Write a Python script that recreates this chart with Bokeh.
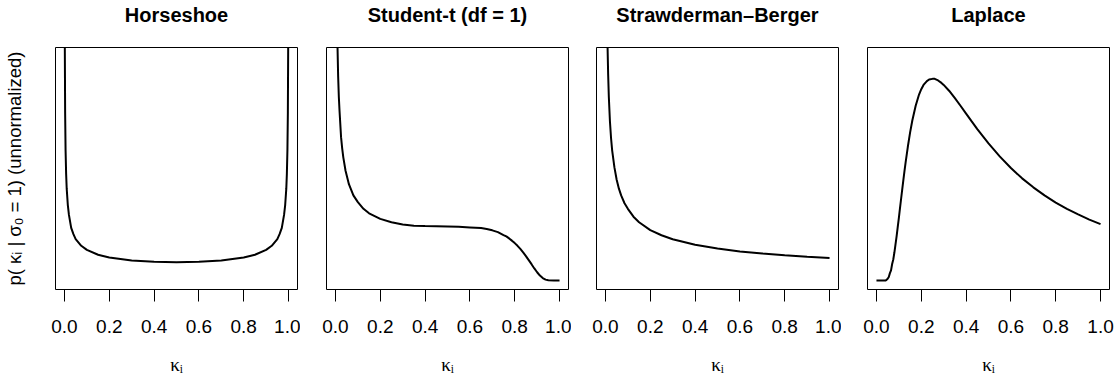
from bokeh.plotting import figure
from bokeh.layouts import row
from bokeh.models import Range1d, FixedTicker, LinearAxis, PrintfTickFormatter
from bokeh.embed import file_html
from bokeh.resources import INLINE

# ---- data (y in relative "unnormalized" units) ----
titles = ["Horseshoe", "Student-t (df = 1)", "Strawderman\u2013Berger", "Laplace"]
x_ticks = [0.0, 0.2, 0.4, 0.6, 0.8, 1.0]
y_label = "p( \u03ba\u1d62 | \u03c3\u2080 = 1) (unnormalized)"
x_label = "\u03ba\u1d62"

hs_kappa = [0.0015, 0.003, 0.005, 0.0075, 0.01, 0.015, 0.02, 0.03, 0.04, 0.05, 0.075,
            0.1, 0.15, 0.2, 0.3, 0.4, 0.5, 0.6, 0.7, 0.8, 0.85, 0.9, 0.925, 0.95,
            0.96, 0.97, 0.98, 0.985, 0.99, 0.9925, 0.995, 0.997, 0.9985]
hs_dens = [1.06, 0.75, 0.58, 0.475, 0.41, 0.337, 0.293, 0.235, 0.207, 0.185, 0.155,
           0.137, 0.115, 0.1025, 0.0895, 0.0837, 0.082, 0.0837, 0.0895, 0.1025, 0.115,
           0.137, 0.155, 0.185, 0.207, 0.235, 0.293, 0.337, 0.41, 0.475, 0.58, 0.75, 1.06]

st_kappa = [0.009, 0.012, 0.015, 0.018, 0.025, 0.03, 0.035, 0.045, 0.06, 0.08, 0.1, 0.125,
            0.15, 0.2, 0.25, 0.3, 0.35, 0.4, 0.45, 0.5, 0.55, 0.6, 0.65, 0.675, 0.7,
            0.725, 0.75, 0.7625, 0.775, 0.7875, 0.8, 0.8125, 0.825, 0.8375, 0.85,
            0.8625, 0.875, 0.8875, 0.9, 0.9125, 0.925, 0.9375, 0.95, 0.975, 1.0]
st_dens = [1.05, 0.91, 0.82, 0.76, 0.64, 0.59, 0.55, 0.49, 0.43, 0.38, 0.35, 0.32,
           0.30, 0.275, 0.26, 0.25, 0.245, 0.243, 0.242, 0.241, 0.24, 0.237, 0.234, 0.23, 0.224,
           0.216, 0.203, 0.197, 0.188, 0.178, 0.167, 0.155, 0.141, 0.126, 0.109,
           0.091, 0.073, 0.054, 0.037, 0.022, 0.011, 0.004, 0.001, 0.0, 0.0]

sb_kappa = [0.009, 0.012, 0.015, 0.02, 0.025, 0.03, 0.04, 0.05, 0.06, 0.07, 0.085, 0.1,
            0.125, 0.15, 0.2, 0.25, 0.3, 0.4, 0.5, 0.6, 0.7, 0.8, 0.9, 1.0]
sb_dens = [1.06, 0.92, 0.82, 0.71, 0.635, 0.58, 0.505, 0.45, 0.41, 0.38, 0.345, 0.32,
           0.285, 0.26, 0.225, 0.202, 0.184, 0.16, 0.143, 0.13, 0.121, 0.113, 0.106, 0.101]

la_kappa = [0.0, 0.02, 0.04, 0.045, 0.05, 0.055, 0.06, 0.065, 0.07, 0.075, 0.08, 0.085,
            0.09, 0.095, 0.1, 0.105, 0.11, 0.115, 0.12, 0.125, 0.13, 0.14, 0.15, 0.16,
            0.175, 0.19, 0.2, 0.21, 0.225, 0.235, 0.25, 0.26, 0.275, 0.29, 0.3, 0.325,
            0.35, 0.375, 0.4, 0.425, 0.45, 0.5, 0.55, 0.6, 0.65, 0.7, 0.75, 0.8, 0.85,
            0.9, 0.95, 1.0]
la_dens = [0.0, 0.0, 0.0, 0.003, 0.008, 0.0155, 0.033, 0.045, 0.074, 0.094, 0.125, 0.161,
           0.198, 0.239, 0.28, 0.323, 0.365, 0.407, 0.448, 0.488, 0.526, 0.597, 0.66, 0.714,
           0.78, 0.83, 0.854, 0.873, 0.89, 0.897, 0.90, 0.90, 0.893, 0.882, 0.873, 0.846,
           0.814, 0.78, 0.745, 0.71, 0.676, 0.612, 0.554, 0.502, 0.456, 0.416, 0.38, 0.348,
           0.32, 0.295, 0.272, 0.252]

series = [(hs_kappa, hs_dens), (st_kappa, st_dens), (sb_kappa, sb_dens), (la_kappa, la_dens)]
left_borders = [55, 26, 25, 26]
right_borders = [3, 3, 3, 6]

FONT = "Liberation Sans"


def label_axis(text, size, style, standoff, font=FONT):
    a = LinearAxis(ticker=FixedTicker(ticks=[], minor_ticks=[]), axis_label=text)
    a.axis_line_color = None
    a.major_tick_out = 0
    a.major_tick_in = 0
    a.minor_tick_out = 0
    a.minor_tick_in = 0
    a.major_label_standoff = 0
    a.axis_label_standoff = standoff
    a.axis_label_text_font = font
    a.axis_label_text_font_size = size
    a.axis_label_text_font_style = style
    a.axis_label_text_color = "black"
    return a


panels = []
for i, (title, (xs, ys)) in enumerate(zip(titles, series)):
    p = figure(frame_width=242, frame_height=242,
               x_range=Range1d(-0.04, 1.04), y_range=Range1d(-0.04, 1.04),
               y_axis_location=None, output_backend="svg", toolbar_location=None,
               min_border_left=left_borders[i], min_border_right=right_borders[i],
               min_border_top=47, min_border_bottom=96)
    p.xgrid.visible = False
    p.ygrid.visible = False
    p.outline_line_color = "black"
    p.outline_line_width = 1
    p.outline_line_alpha = 1.0
    p.background_fill_color = "white"
    p.border_fill_color = "white"

    ax = p.xaxis[0]
    ax.ticker = FixedTicker(ticks=x_ticks)
    ax.formatter = PrintfTickFormatter(format="%.1f")
    ax.axis_line_color = None
    ax.major_tick_out = 12
    ax.major_tick_in = 0
    ax.minor_tick_out = 0
    ax.minor_tick_in = 0
    ax.major_tick_line_color = "black"
    ax.major_label_text_font = FONT
    ax.major_label_text_font_size = "19px"
    ax.major_label_text_color = "black"
    ax.major_label_standoff = 18
    ax.axis_label = x_label
    ax.axis_label_text_font = "Liberation Serif"
    ax.axis_label_text_font_style = "normal"
    ax.axis_label_text_font_size = "19px"
    ax.axis_label_text_color = "black"
    ax.axis_label_standoff = 18

    p.line(xs, ys, line_width=2, line_color="black")

    p.add_layout(label_axis(title, "20px", "bold", 22), "above")

    if i == 0:
        ya = label_axis(y_label, "18.5px", "normal", 31)
        ya.bounds = (0.022, 1.04)
        p.add_layout(ya, "left")
    panels.append(p)

layout = row(*panels, spacing=0)
open("out.html", "w").write(file_html(layout, INLINE))
